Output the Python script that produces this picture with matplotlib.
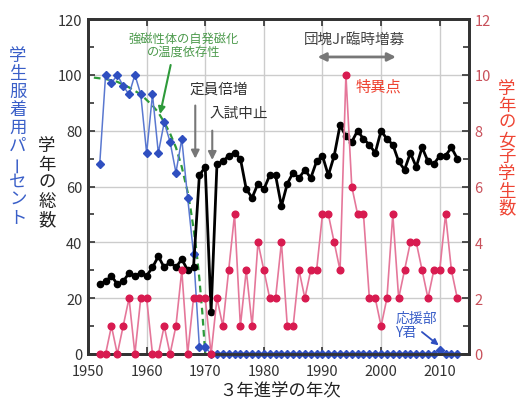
import matplotlib
matplotlib.use('Agg')
import matplotlib.pyplot as plt
from matplotlib.ticker import MultipleLocator

plt.rcParams['font.family'] = ['Noto Sans CJK JP', 'DejaVu Sans']

W, H = 517, 402

# 学年の総数 (left axis)
years_total = list(range(1952, 2014))
total = [25, 26, 28, 25, 26, 29, 28, 29, 28, 31, 35, 31, 33, 31, 34, 30, 31,
         64, 67, 15, 68, 69, 71, 72, 70, 59, 56, 61, 59, 64, 64, 53, 61, 65,
         63, 66, 63, 69, 71, 64, 71, 82, 78, 76, 80, 77, 75, 72, 80, 77, 75,
         69, 66, 72, 67, 74, 69, 68, 71, 71, 74, 70]

# 学生服着用パーセント (left axis)
years_uniform = list(range(1952, 2014))
uniform = [68, 100, 97, 100, 96, 93, 100, 93, 72, 93, 72, 83, 76, 65, 77, 56,
           36, 2.5, 2.5] + [0] * 39 + [1.4, 0, 0, 0]

# 強磁性体の自発磁化の温度依存性
green_years = [1951, 1953, 1955, 1957, 1959, 1961, 1962, 1963, 1964, 1965,
               1966, 1967, 1967.5, 1968, 1968.5, 1969, 1969.5, 1970]
green_vals = [99, 98.5, 97.5, 95.5, 93, 89, 86.5, 83, 79, 74, 67, 58, 52,
              45, 37, 27, 15, 0]

# 学年の女子学生数 (right axis)
years_girls = list(range(1952, 2014))
girls = [0, 0, 1, 0, 1, 2, 0, 2, 2, 0, 0, 1, 0, 1, 3, 0, 2, 2, 2, 0, 2, 1, 3,
         5, 1, 3, 1, 4, 3, 2, 2, 4, 1, 1, 3, 2, 3, 3, 5, 5, 4, 3, 10, 6, 5, 5,
         2, 2, 1, 2, 5, 2, 3, 4, 4, 3, 2, 3, 3, 5, 3, 2]

fig = plt.figure(figsize=(W / 100, H / 100), dpi=100)
ax = fig.add_axes([88 / W, 1 - 355 / H, (469 - 88) / W, (355 - 20) / H])
ax2 = ax.twinx()

ax.set_xlim(1950, 2015)
ax.set_ylim(0, 120)
ax2.set_ylim(0, 12)

ax.grid(True, color='#cccccc', lw=1)
ax.set_axisbelow(True)

ax.plot(green_years, green_vals, color='#2e9a3a', lw=1.6, ls=(0, (3, 2)), zorder=2)
ax.plot(years_uniform, uniform, color='#5a78d0', lw=1.1, marker='D', ms=3.8,
        mfc='#2f4fc0', mec='#2f4fc0', clip_on=False, zorder=3)
ax.plot(years_total, total, color='black', lw=2, marker='o', ms=4.5,
        clip_on=False, zorder=4)
ax2.plot(years_girls, girls, color='#e5779a', lw=1.2, marker='o', ms=4.8,
         mfc='#d81b50', mec='#d81b50', clip_on=False, zorder=5)

for a in (ax, ax2):
    for s in a.spines.values():
        s.set_linewidth(2)
        s.set_color('#333333')

ax.xaxis.set_major_locator(MultipleLocator(10))
ax.yaxis.set_major_locator(MultipleLocator(20))
ax.yaxis.set_minor_locator(MultipleLocator(10))
ax2.yaxis.set_major_locator(MultipleLocator(2))
ax2.yaxis.set_minor_locator(MultipleLocator(1))
ax.tick_params(axis='both', which='both', direction='in', top=True,
               labelsize=10.5, labelcolor='#333333', color='#333333')
ax.tick_params(axis='both', which='major', length=5, width=1.2)
ax.tick_params(axis='y', which='minor', length=4, width=1.2)
ax.tick_params(axis='x', pad=7)
ax.tick_params(axis='y', pad=4)
ax2.tick_params(axis='y', which='both', direction='in', labelsize=10.5,
                labelcolor='#c8505a', color='#333333', pad=4)
ax2.tick_params(axis='y', which='major', length=5, width=1.2)
ax2.tick_params(axis='y', which='minor', length=4, width=1.2)


def vtext(x_px, y0_px, s, step, **kw):
    for i, ch in enumerate(s):
        rot = 90 if ch == 'ー' else 0
        fig.text(x_px / W, 1 - (y0_px + i * step) / H, ch, ha='center',
                 va='center', rotation=rot, **kw)


vtext(18, 56, '学生服着用パーセント', 18, fontsize=12.5, color='#3a5fc8')
vtext(47, 146, '学年の総数', 18.6, fontsize=12.5, color='#222222')
vtext(507, 89, '学年の女子学生数', 17.1, fontsize=12.5, color='#ee4433')

fig.text(280 / W, 1 - 391 / H, '３年進学の年次', ha='center', va='center',
         fontsize=12.5, color='#222222')

# annotations
ax.text(1966.3, 110.6, '強磁性体の自発磁化\nの温度依存性', ha='center', va='center',
        fontsize=8.8, color='#4c9a4c', linespacing=1.05)
ax.annotate('', xy=(1962.2, 85), xytext=(1964.2, 104.5),
            arrowprops=dict(arrowstyle='-|>', color='#2e9a3a', lw=1.5,
                            mutation_scale=10))
ax.text(1967.3, 95, '定員倍増', ha='left', va='center', fontsize=10.5,
        color='#333333')
ax.annotate('', xy=(1968.3, 69), xytext=(1968.3, 90),
            arrowprops=dict(arrowstyle='-|>', color='#777777', lw=1.5,
                            mutation_scale=12))
ax.text(1970.8, 86.3, '入試中止', ha='left', va='center', fontsize=10.5,
        color='#333333')
ax.annotate('', xy=(1971.2, 68.5), xytext=(1971.2, 81),
            arrowprops=dict(arrowstyle='-|>', color='#777777', lw=1.5,
                            mutation_scale=12))
ax.text(1995.5, 112.7, '団塊Jr臨時増募', ha='center', va='center', fontsize=10.5,
        color='#444444')
ax.annotate('', xy=(1988.7, 106.4), xytext=(2003, 106.4),
            arrowprops=dict(arrowstyle='<|-|>', color='#777777', lw=2,
                            mutation_scale=12))
ax2.text(1995.6, 9.6, '特異点', ha='left', va='center', fontsize=11,
         color='#ee4433')
ax.text(2002.4, 10.5, '応援部\nY君', ha='left', va='center', fontsize=10,
        color='#3a5fc8', linespacing=1.0)
ax.annotate('', xy=(2010.2, 2.5), xytext=(2006.6, 8.5),
            arrowprops=dict(arrowstyle='-|>', color='#2f4fc0', lw=1.3,
                            mutation_scale=9))

fig.savefig('out.png', dpi=100)
